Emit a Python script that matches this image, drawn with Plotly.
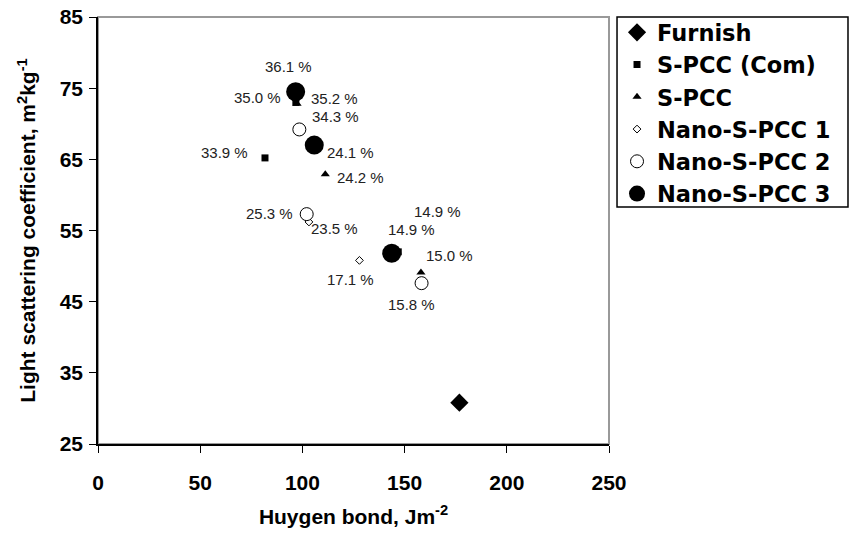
import plotly.graph_objects as go

# Huygen bond (J/m2) vs light scattering coefficient (m2/kg) with filler content labels
series_names = ["Furnish", "S-PCC (Com)", "S-PCC", "Nano-S-PCC 1", "Nano-S-PCC 2", "Nano-S-PCC 3"]

furnish_x = [176.8]
furnish_y = [30.8]
furnish_lbl = [""]

spcc_com_x = [81.7, 96.8, 146.9]
spcc_com_y = [65.2, 73.0, 52.0]
spcc_com_lbl = ["33.9 %", "35.0 %", "14.9 %"]

spcc_x = [97.4, 111.2, 158.0]
spcc_y = [72.8, 62.9, 49.1]
spcc_lbl = ["35.2 %", "24.2 %", "15.0 %"]

nano1_x = [103.2, 127.9]
nano1_y = [56.2, 50.8]
nano1_lbl = ["23.5 %", "17.1 %"]

nano2_x = [98.5, 102.1, 158.3]
nano2_y = [69.2, 57.3, 47.6]
nano2_lbl = ["34.3 %", "25.3 %", "15.8 %"]

nano3_x = [96.7, 105.8, 143.7]
nano3_y = [74.5, 67.0, 51.8]
nano3_lbl = ["36.1 %", "24.1 %", "14.9 %"]

x_ticks = [0, 50, 100, 150, 200, 250]
y_ticks = [25, 35, 45, 55, 65, 75, 85]

FONT = "Liberation Sans, Arial, sans-serif"
LEGEND_FONT = "DejaVu Sans, sans-serif"

data = [
    (furnish_x, furnish_y, furnish_lbl),
    (spcc_com_x, spcc_com_y, spcc_com_lbl),
    (spcc_x, spcc_y, spcc_lbl),
    (nano1_x, nano1_y, nano1_lbl),
    (nano2_x, nano2_y, nano2_lbl),
    (nano3_x, nano3_y, nano3_lbl),
]

markers = [
    dict(symbol="diamond", size=14, color="black"),
    dict(symbol="square", size=7, color="black"),
    dict(symbol="triangle-up", size=8, color="black"),
    dict(symbol="diamond", size=6, color="white", line=dict(color="black", width=1)),
    dict(symbol="circle", size=13, color="white", line=dict(color="black", width=1)),
    dict(symbol="circle", size=19, color="black"),
]

# label offsets in pixels (dx, dy), one per point
offsets = [
    [(0, 0)],
    [(-40, 5), (-38, 5), (39, 40)],
    [(37, 5), (35, -3), (29, 17)],
    [(26, -7), (-9, -19)],
    [(36, 13), (-37, 1), (-10, -21)],
    [(-7, 25), (36, -7), (20, 24)],
]

fig = go.Figure()
annotations = []
for name, (xs, ys, lbls), mk, offs in zip(series_names, data, markers, offsets):
    fig.add_trace(go.Scatter(x=xs, y=ys, mode="markers", name=name, marker=mk))
    for x, y, t, (dx, dy) in zip(xs, ys, lbls, offs):
        if t:
            annotations.append(dict(
                x=x, y=y, text=t, showarrow=False, xshift=dx, yshift=dy,
                font=dict(family=FONT, size=15, color="#222222"),
            ))

fig.update_layout(
    width=851, height=542,
    margin=dict(l=98, r=242, t=17, b=98, autoexpand=False),
    paper_bgcolor="white", plot_bgcolor="white",
    font=dict(family=FONT, color="black"),
    annotations=annotations,
    showlegend=True,
    legend=dict(
        x=1.0157, y=1.0136, xanchor="left", yanchor="top",
        borderwidth=0, bgcolor="rgba(0,0,0,0)",
        font=dict(family=LEGEND_FONT, size=22.5, weight="bold", color="black"),
        itemsizing="trace",
    ),
    shapes=[
        # plot-area frame (gray)
        dict(type="rect", xref="paper", yref="paper", x0=0, y0=0, x1=1, y1=1,
             line=dict(color="#999999", width=2), layer="below"),
        # legend frame
        dict(type="rect", xref="paper", yref="paper", x0=1.0157, y0=0.555, x1=1.4677, y1=1.0,
             line=dict(color="black", width=1.5)),
    ],
)

fig.update_xaxes(
    range=[0, 250], tickvals=x_ticks, showgrid=False, zeroline=False,
    showline=True, linecolor="black", linewidth=1.5,
    ticks="outside", ticklen=7, tickcolor="black", ticklabelstandoff=12,
    tickfont=dict(family=FONT, size=21, weight="bold"),
    title=dict(text="Huygen bond, Jm<sup>-2</sup>",
               font=dict(family=FONT, size=21, weight="bold"), standoff=16),
)
fig.update_yaxes(
    range=[25, 85], tickvals=y_ticks, showgrid=False, zeroline=False,
    showline=True, linecolor="black", linewidth=1.5,
    ticks="outside", ticklen=7, tickcolor="black", ticklabelstandoff=2,
    tickfont=dict(family=FONT, size=21, weight="bold"),
    title=dict(text="Light scattering coefficient, m<sup>2</sup>kg<sup>-1</sup>",
               font=dict(family=FONT, size=21, weight="bold"), standoff=18),
)

fig.write_html("out.html")
